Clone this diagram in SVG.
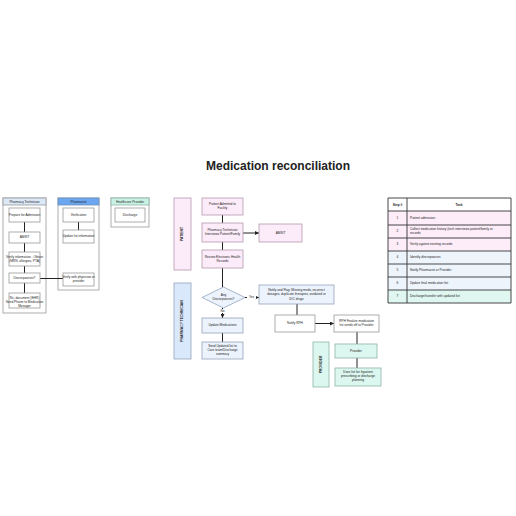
<svg xmlns="http://www.w3.org/2000/svg" width="516" height="516" viewBox="0 0 516 516">
<defs>
<marker id="ah" viewBox="0 0 6 6" refX="6" refY="3" markerWidth="4" markerHeight="4" orient="auto"><path d="M0,0 L6,3 L0,6 z" fill="#222"/></marker>
<style>
text{font-family:"Liberation Sans",Arial,sans-serif;fill:#222}
.t{font-size:3.2px;text-anchor:middle;dominant-baseline:middle}
.tl{font-size:3.2px;dominant-baseline:middle}
.title{font-size:12px;font-weight:bold;text-anchor:middle}
.lane{fill:#fff;stroke:#9a9a9a;stroke-width:0.8}
.box{fill:#fff;stroke:#9a9a9a;stroke-width:0.8}
.pk{fill:#fcebf8;stroke:#b49aae;stroke-width:0.8}
.bl{fill:#edf3fc;stroke:#93a3bb;stroke-width:0.8}
.tq{fill:#dcf7ef;stroke:#8fb3a8;stroke-width:0.8}
.lab{font-size:3.4px;font-weight:bold;text-anchor:middle;dominant-baseline:middle}
.c{fill:none;stroke:#222;stroke-width:1}
.tb{stroke:#333;stroke-width:0.9}
</style>
</defs>
<rect width="516" height="516" fill="#fff"/>
<text class="title" x="278" y="170">Medication reconciliation</text>

<!-- Left swimlanes -->
<g id="lane-tech">
<rect class="lane" x="3" y="198" width="43" height="115"/>
<rect x="3" y="198" width="43" height="7" fill="#dbe8f8" stroke="#9a9a9a" stroke-width="0.8"/>
<text class="t" x="24.5" y="201.8">Pharmacy Technician</text>
</g>
<g id="lane-pharm">
<rect class="lane" x="58" y="198" width="41" height="92"/>
<rect x="58" y="198" width="41" height="7" fill="#6aa7f0" stroke="#6f8fb8" stroke-width="0.8"/>
<text class="t" x="78.5" y="201.8">Pharmacist</text>
</g>
<g id="lane-hp">
<rect class="lane" x="111" y="198" width="38" height="29"/>
<rect x="111" y="198" width="38" height="7" fill="#c9f2e5" stroke="#8fb3a8" stroke-width="0.8"/>
<text class="t" x="130" y="201.8">Healthcare Provider</text>
</g>

<g id="connectors-left">
<path class="c" d="M24.5,222 V232 M24.5,243 V252 M24.5,266 V273 M24.5,283 V293 M40,278.5 H63 M78.5,222 V230"/>
</g>

<g id="lt1"><rect class="box" x="9" y="208" width="31" height="14"/><text class="t" x="24.5" y="215">Prepare for Admission</text></g>
<g id="lt2"><rect class="box" x="9" y="232" width="31" height="11"/><text class="t" x="24.5" y="237.5">AMSIT</text></g>
<g id="lt3"><rect class="box" x="9" y="252" width="31" height="14"/><text class="t" x="24.5" y="257.5">Verify information - Obtain</text><text class="t" x="24.5" y="261.5">(MRN, allergies, PTA)</text></g>
<g id="lt4"><rect class="box" x="9" y="273" width="31" height="10"/><text class="t" x="24.5" y="278">Discrepancies?</text></g>
<g id="lt5"><rect class="box" x="9" y="293" width="31" height="15"/><text class="t" x="24.5" y="298.5">Rx, document (EHR)</text><text class="t" x="24.5" y="302.5">Send Pharm to Medication</text><text class="t" x="24.5" y="306">Manager</text></g>
<g id="lp1"><rect class="box" x="63" y="208" width="31" height="14"/><text class="t" x="78.5" y="215">Verification</text></g>
<g id="lp2"><rect class="box" x="63" y="230" width="31" height="13"/><text class="t" x="78.5" y="236.5">Update list information</text></g>
<g id="lp3"><rect class="box" x="63" y="273" width="31" height="13"/><text class="t" x="78.5" y="277.5">Verify with physician or</text><text class="t" x="78.5" y="281.5">provider</text></g>
<g id="lh1"><rect class="box" x="115" y="208" width="30" height="14"/><text class="t" x="130" y="215">Discharge</text></g>

<!-- Middle flowchart -->
<g id="lane-patient"><rect class="pk" x="174" y="198" width="17" height="72"/><text class="lab" transform="translate(182.5,234) rotate(-90)">PATIENT</text></g>
<g id="lane-pharmtech"><rect x="174" y="283" width="17" height="76" fill="#dae8fc" stroke="#93a3bb" stroke-width="0.8"/><text class="lab" transform="translate(182.5,321) rotate(-90)">PHARMACY TECHNICIAN</text></g>
<g id="lane-provider"><rect class="tq" x="313" y="342" width="16" height="45"/><text class="lab" transform="translate(321,364.5) rotate(-90)">PROVIDER</text></g>

<g id="connectors">
<path class="c" d="M222.5,215 V223"/>
<path class="c" d="M243,233 H259" marker-end="url(#ah)"/>
<path class="c" d="M222.5,242 V250"/>
<path class="c" d="M222.5,268 V287"/>
<path class="c" d="M245,297.5 H259" marker-end="url(#ah)"/>
<path class="c" d="M222.5,308 V318" marker-end="url(#ah)"/>
<path class="c" d="M222.5,333 V342"/>
<path class="c" d="M297,304 V315"/>
<path class="c" d="M315,323.5 H334" marker-end="url(#ah)"/>
<path class="c" d="M357,332 V344"/>
<path class="c" d="M357,358 V368"/>
<rect x="247" y="295.5" width="9" height="4" fill="#fff"/>
<text class="t" x="251.5" y="297.6">Yes</text>
<rect x="219.5" y="309" width="6" height="4" fill="#fff"/>
<text class="t" x="222.5" y="311">No</text>
</g>

<g id="n1"><rect class="pk" x="202" y="198" width="41" height="17"/><text class="t" x="222.5" y="204.5">Patient Admitted to</text><text class="t" x="222.5" y="208.5">Facility</text></g>
<g id="n2"><rect class="pk" x="202" y="223" width="41" height="19"/><text class="t" x="222.5" y="230.5">Pharmacy Technician</text><text class="t" x="222.5" y="234.5">Interviews Patient/Family</text></g>
<g id="n3"><rect class="pk" x="259" y="224" width="43" height="18"/><text class="t" x="280.5" y="233">AMSIT</text></g>
<g id="n4"><rect class="pk" x="202" y="250" width="41" height="18"/><text class="t" x="222.5" y="257">Review Electronic Health</text><text class="t" x="222.5" y="261">Records</text></g>
<g id="n5"><path d="M223.5,287 L245,297.5 L223.5,308 L202,297.5 z" class="bl"/><text class="t" x="223.5" y="295.5">Any</text><text class="t" x="223.5" y="299.5">Discrepancies?</text></g>
<g id="n6"><rect class="bl" x="259" y="285" width="75" height="19"/><text class="t" x="296.5" y="290">Notify and Flag: Missing meds, incorrect</text><text class="t" x="296.5" y="294.5">dosages, duplicate therapies, outdated or</text><text class="t" x="296.5" y="299">D/C drugs</text></g>
<g id="n7"><rect class="bl" x="202" y="318" width="41" height="15"/><text class="t" x="222.5" y="325.5">Update Medications</text></g>
<g id="n8"><rect class="bl" x="202" y="342" width="41" height="17"/><text class="t" x="222.5" y="346.5">Send Updated list to</text><text class="t" x="222.5" y="350.5">Care team/Discharge</text><text class="t" x="222.5" y="354.5">summary</text></g>
<g id="n9"><rect class="box" x="275" y="315" width="40" height="17"/><text class="t" x="295" y="323.5">Notify RPH</text></g>
<g id="n10"><rect class="box" x="334" y="315" width="45" height="17"/><text class="t" x="356.5" y="321.5">RPH Finalize medication</text><text class="t" x="356.5" y="325.5">list sends off to Provider</text></g>
<g id="n11"><rect class="tq" x="335" y="344" width="42" height="14"/><text class="t" x="356" y="351">Provider</text></g>
<g id="n12"><rect class="tq" x="335" y="368" width="46" height="18"/><text class="t" x="358" y="372.5">Uses list for Inpatient</text><text class="t" x="358" y="376.5">prescribing or discharge</text><text class="t" x="358" y="380.5">planning</text></g>

<!-- Table -->
<g id="table">
<rect x="388" y="198" width="123" height="13" fill="#fff"/>
<rect x="388" y="211" width="123" height="40" fill="#fcedf8"/>
<rect x="388" y="251" width="123" height="39" fill="#eef4fc"/>
<rect x="388" y="290" width="123" height="13" fill="#dff7f0"/>
<path class="tb" d="M388,198 H511 V303 H388 z M407,198 V303 M388,211 H511 M388,225 H511 M388,238 H511 M388,251 H511 M388,264 H511 M388,277 H511 M388,290 H511" fill="none"/>
<text class="t" x="397.5" y="205" font-weight="bold">Step #</text>
<text class="t" x="459" y="205" font-weight="bold">Task</text>
<text class="t" x="397.5" y="218">1</text><text class="tl" x="410" y="218">Patient admission</text>
<text class="t" x="397.5" y="231.5">2</text><text class="tl" x="410" y="229.5">Collect medication history (tech interviews patient/family or</text><text class="tl" x="410" y="233.5">records</text>
<text class="t" x="397.5" y="244.5">3</text><text class="tl" x="410" y="244.5">Verify against existing records</text>
<text class="t" x="397.5" y="257.5">4</text><text class="tl" x="410" y="257.5">Identify discrepancies</text>
<text class="t" x="397.5" y="270.5">5</text><text class="tl" x="410" y="270.5">Notify Pharmacist or Provider</text>
<text class="t" x="397.5" y="283.5">6</text><text class="tl" x="410" y="283.5">Update final medication list</text>
<text class="t" x="397.5" y="296.5">7</text><text class="tl" x="410" y="296.5">Discharge/transfer with updated list</text>
</g>
</svg>
